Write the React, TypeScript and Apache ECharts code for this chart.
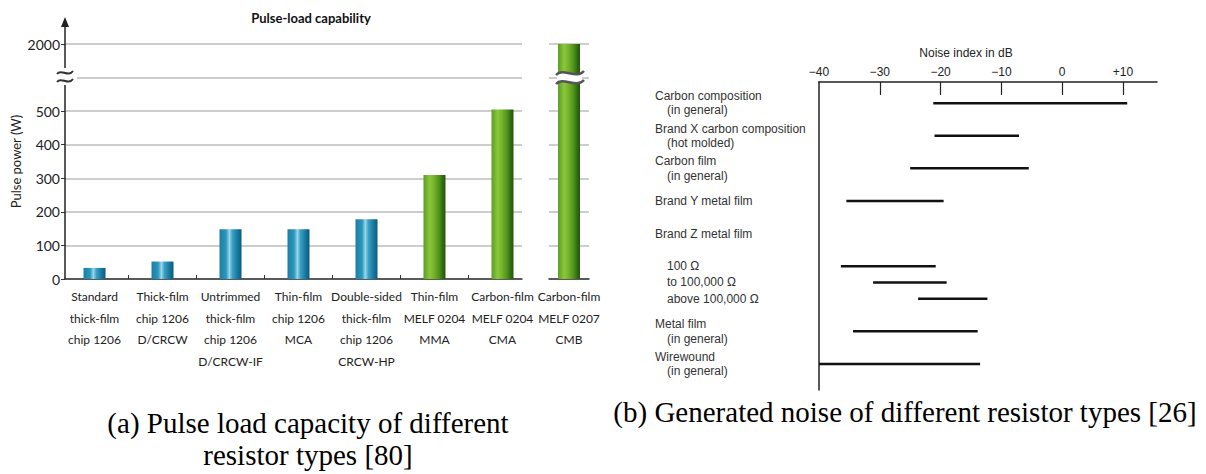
import React, { useEffect, useRef } from "react";
import * as echarts from "echarts";

// ---------- (a) Pulse-load capability ----------
const pulseCategories = [
  "Standard\nthick-film\nchip 1206",
  "Thick-film\nchip 1206\nD/CRCW",
  "Untrimmed\nthick-film\nchip 1206\nD/CRCW-IF",
  "Thin-film\nchip 1206\nMCA",
  "Double-sided\nthick-film\nchip 1206\nCRCW-HP",
  "Thin-film\nMELF 0204\nMMA",
  "Carbon-film\nMELF 0204\nCMA",
  "Carbon-film\nMELF 0207\nCMB",
];
const pulseValues = [33, 52, 148, 148, 178, 310, 505, 2000];
// 0 = chip (blue), 1 = MELF (green)
const pulseFamily = [0, 0, 0, 0, 0, 1, 1, 1];
const pulseTickStep = 100;
const pulseAxisMax = 700;
// axis break: values between 600 and 1900 are cut out
const BREAK_AT = 600;
const BREAK_SKIP = 1300;
const toAxis = (v: number) => (v > BREAK_AT ? v - BREAK_SKIP : v);

// ---------- (b) Noise index ----------
const noiseRows = [
  "Carbon composition\n(in general)",
  "Brand X carbon composition\n(hot molded)",
  "Carbon film\n(in general)",
  "Brand Y metal film",
  "Brand Z metal film",
  "100 Ω",
  "to 100,000 Ω",
  "above 100,000 Ω",
  "Metal film\n(in general)",
  "Wirewound\n(in general)",
];
const noiseRowSlot = [0, 2, 4, 6, 8, 10, 11, 12, 14, 16];
const noiseRowIndented = [false, false, false, false, false, true, true, true, false, false];
const noiseLow = [-21.2, -21, -25, -35.5, null, -36.4, -31.1, -23.7, -34.4, -40];
const noiseHigh = [10.7, -7.1, -5.5, -19.5, null, -20.8, -19, -12.3, -13.9, -13.5];
const noiseTicks = [-40, -30, -20, -10, 0, 10];

const SANS_A = "Lato, 'Open Sans', sans-serif";
const SANS_B = "'Liberation Sans', Arial, sans-serif";
const SERIF = "'Liberation Serif', 'Times New Roman', serif";

export default function App() {
  const ref = useRef<HTMLDivElement>(null);

  useEffect(() => {
    if (!ref.current) return;
    const chart = echarts.init(ref.current, undefined, { renderer: "svg" });

    const blue = new echarts.graphic.LinearGradient(0, 0, 1, 0, [
      { offset: 0, color: "#1a7ea4" },
      { offset: 0.3, color: "#2b97bd" },
      { offset: 0.45, color: "#9ad6e6" },
      { offset: 0.58, color: "#3ba2c6" },
      { offset: 0.82, color: "#16789e" },
      { offset: 1, color: "#0c5a7c" },
    ]);
    const green = new echarts.graphic.LinearGradient(0, 0, 1, 0, [
      { offset: 0, color: "#5a9e22" },
      { offset: 0.28, color: "#8cc63e" },
      { offset: 0.45, color: "#78b62c" },
      { offset: 0.72, color: "#4f901a" },
      { offset: 0.88, color: "#2e6a10" },
      { offset: 1, color: "#22550b" },
    ]);
    const fills = [blue, green];

    const mainCount = pulseValues.length - 1;
    const mainData = pulseValues.slice(0, mainCount).map((v, i) => [i, toAxis(v), pulseFamily[i]]);
    const lastData = [[0, toAxis(pulseValues[mainCount]), pulseFamily[mainCount]]];

    const barRender = (params: any, api: any) => {
      const x = api.value(0);
      const v = api.value(1);
      const base = api.coord([x, 0]);
      const top = api.coord([x, v]);
      const w = 22;
      return {
        type: "rect",
        shape: { x: base[0] - w / 2, y: top[1], width: w, height: base[1] - top[1] },
        style: { fill: fills[api.value(2)] },
      };
    };

    const xLabelStyle = {
      fontFamily: SANS_A,
      fontSize: 12,
      lineHeight: 21.5,
      color: "#222",
      margin: 7,
    };

    const pulseYLabel = (v: number) => {
      if (v === BREAK_AT) return "";
      return String(v > BREAK_AT ? v + BREAK_SKIP : v);
    };

    const noiseLabel = (v: number) => {
      const i = noiseRowSlot.indexOf(Math.round(v));
      if (i < 0) return "";
      const lines = noiseRows[i].split("\n");
      return lines
        .map((l, k) => (k === 0 && !noiseRowIndented[i] ? `{a|${l}}` : `{b|${l}}`))
        .join("\n");
    };

    const noiseData = noiseRows
      .map((_, i) => [noiseLow[i], noiseHigh[i], noiseRowSlot[i]])
      .filter((d) => d[0] !== null);

    const mainCenters = pulseCategories.slice(0, mainCount).map((_, i) => i);

    const option: any = {
      animation: false,
      backgroundColor: "#ffffff",
      grid: [
        { left: 65, right: 684, top: 44, bottom: 195 },
        { left: 549, right: 617, top: 44, bottom: 195 },
        { left: 819, right: 49, top: 82, bottom: 84 },
      ],
      xAxis: [
        {
          gridIndex: 0,
          type: "value",
          min: -0.434,
          max: 6.287,
          splitLine: { show: false },
          axisLine: { show: true, onZero: false, lineStyle: { color: "#333", width: 1.5 } },
          axisTick: {
            show: true,
            inside: true,
            length: 4,
            lineStyle: { color: "#333", width: 1 },
            customValues: mainCenters.slice(0, -1).map((c) => c + 0.5),
          },
          axisLabel: {
            ...xLabelStyle,
            customValues: mainCenters,
            formatter: (v: number) => pulseCategories[Math.round(v)] ?? "",
          },
        },
        {
          gridIndex: 1,
          type: "category",
          data: [pulseCategories[mainCount]],
          splitLine: { show: false },
          axisLine: { show: true, onZero: false, lineStyle: { color: "#333", width: 1.5 } },
          axisTick: { show: false },
          axisLabel: { ...xLabelStyle },
        },
        {
          gridIndex: 2,
          type: "value",
          position: "top",
          min: -40,
          max: 15.6,
          splitLine: { show: false },
          axisLine: { show: true, onZero: false, lineStyle: { color: "#222", width: 1.5 } },
          axisTick: {
            show: true,
            inside: true,
            length: 13,
            lineStyle: { color: "#222", width: 1.2 },
            customValues: noiseTicks.slice(1),
          },
          axisLabel: {
            customValues: noiseTicks,
            fontFamily: SANS_B,
            fontSize: 12,
            color: "#222",
            margin: 4,
            formatter: (v: number) => (v < 0 ? "\u2212" + Math.abs(v) : v > 0 ? "+" + v : "0"),
          },
          name: "Noise index in dB",
          nameLocation: "middle",
          nameGap: 23,
          nameTextStyle: {
            fontFamily: SANS_B,
            fontSize: 12,
            color: "#222",
            padding: [0, 44, 0, 0],
          },
        },
      ],
      yAxis: [
        {
          gridIndex: 0,
          type: "value",
          min: 0,
          max: pulseAxisMax,
          interval: pulseTickStep,
          axisLine: { show: false, onZero: false },
          axisTick: { show: true, length: 4, lineStyle: { color: "#333", width: 1 } },
          splitLine: { show: true, lineStyle: { color: "#bcbcbc", width: 1.5 } },
          axisLabel: {
            fontFamily: SANS_A,
            fontSize: 14,
            color: "#222",
            margin: 5,
            formatter: pulseYLabel,
          },
          name: "Pulse power (W)",
          nameLocation: "middle",
          nameGap: 43,
          nameTextStyle: { fontFamily: SANS_A, fontSize: 13, color: "#222" },
        },
        {
          gridIndex: 1,
          type: "value",
          min: 0,
          max: pulseAxisMax,
          interval: pulseTickStep,
          axisLine: { show: false, onZero: false },
          axisTick: { show: false },
          axisLabel: { show: false },
          splitLine: { show: true, lineStyle: { color: "#bcbcbc", width: 1.5 } },
        },
        {
          gridIndex: 2,
          type: "value",
          inverse: true,
          min: -1.3,
          max: 17.6,
          axisLine: { show: true, onZero: false, lineStyle: { color: "#222", width: 1.5 } },
          axisTick: { show: false },
          splitLine: { show: false },
          axisLabel: {
            customValues: noiseRowSlot,
            align: "left",
            margin: 164,
            formatter: noiseLabel,
            rich: {
              a: { fontFamily: SANS_B, fontSize: 12, color: "#333", lineHeight: 14.5 },
              b: {
                fontFamily: SANS_B,
                fontSize: 12,
                color: "#333",
                lineHeight: 14.5,
                padding: [0, 0, 0, 12],
              },
            },
          },
        },
      ],
      series: [
        {
          type: "custom",
          xAxisIndex: 0,
          yAxisIndex: 0,
          data: mainData,
          renderItem: barRender,
        },
        {
          type: "custom",
          xAxisIndex: 1,
          yAxisIndex: 1,
          data: lastData,
          renderItem: barRender,
        },
        {
          type: "custom",
          xAxisIndex: 2,
          yAxisIndex: 2,
          data: noiseData,
          renderItem: (params: any, api: any) => {
            const a = api.coord([api.value(0), api.value(2)]);
            const b = api.coord([api.value(1), api.value(2)]);
            return {
              type: "line",
              shape: { x1: a[0], y1: a[1], x2: b[0], y2: b[1] },
              style: { stroke: "#111", lineWidth: 2.5 },
            };
          },
        },
      ],
      graphic: [
        // title (a)
        {
          type: "text",
          x: 311,
          y: 18,
          z: 100,
          style: {
            text: "Pulse-load capability",
            align: "center",
            verticalAlign: "middle",
            font: `bold 13px ${SANS_A}`,
            fill: "#111",
          },
        },
        // left y axis line with arrow and break
        { type: "line", z: 100, shape: { x1: 65, y1: 279, x2: 65, y2: 85 }, style: { stroke: "#222", lineWidth: 1.5 } },
        { type: "rect", z: 100, shape: { x: 54, y: 69, width: 23, height: 15 }, style: { fill: "#fff" } },
        { type: "line", z: 100, shape: { x1: 65, y1: 68, x2: 65, y2: 24 }, style: { stroke: "#222", lineWidth: 1.5 } },
        { type: "polygon", z: 100, shape: { points: [[61, 27], [65, 17], [69, 27]] }, style: { fill: "#222" } },
        {
          type: "bezierCurve",
          z: 101,
          shape: { x1: 57, y1: 74, cpx1: 61, cpy1: 68, cpx2: 68, cpy2: 78, x2: 73, y2: 71 },
          style: { stroke: "#333", lineWidth: 2, fill: null },
        },
        {
          type: "bezierCurve",
          z: 101,
          shape: { x1: 57, y1: 82, cpx1: 61, cpy1: 76, cpx2: 68, cpy2: 86, x2: 73, y2: 79 },
          style: { stroke: "#333", lineWidth: 2, fill: null },
        },
        // break on the last bar
        { type: "rect", z: 100, shape: { x: 557, y: 73, width: 25, height: 9 }, style: { fill: "#fff" } },
        {
          type: "bezierCurve",
          z: 101,
          shape: { x1: 556, y1: 75, cpx1: 563, cpy1: 67, cpx2: 576, cpy2: 80, x2: 584, y2: 71 },
          style: { stroke: "#555", lineWidth: 2.5, fill: null },
        },
        {
          type: "bezierCurve",
          z: 101,
          shape: { x1: 556, y1: 84, cpx1: 563, cpy1: 76, cpx2: 576, cpy2: 89, x2: 584, y2: 80 },
          style: { stroke: "#555", lineWidth: 2.5, fill: null },
        },
        // captions
        {
          type: "text",
          x: 308,
          y: 423,
          z: 100,
          style: {
            text: "(a) Pulse load capacity of different",
            align: "center",
            verticalAlign: "middle",
            font: `29px ${SERIF}`,
            fill: "#000",
          },
        },
        {
          type: "text",
          x: 308,
          y: 455,
          z: 100,
          style: {
            text: "resistor types [80]",
            align: "center",
            verticalAlign: "middle",
            font: `29px ${SERIF}`,
            fill: "#000",
          },
        },
        {
          type: "text",
          x: 905,
          y: 412,
          z: 100,
          style: {
            text: "(b) Generated noise of different resistor types [26]",
            align: "center",
            verticalAlign: "middle",
            font: `29px ${SERIF}`,
            fill: "#000",
          },
        },
      ],
    };

    chart.setOption(option);
    return () => chart.dispose();
  }, []);

  return (
    <div
      ref={ref}
      style={{ position: "absolute", left: 0, top: 0, width: 1206, height: 474 }}
    />
  );
}
